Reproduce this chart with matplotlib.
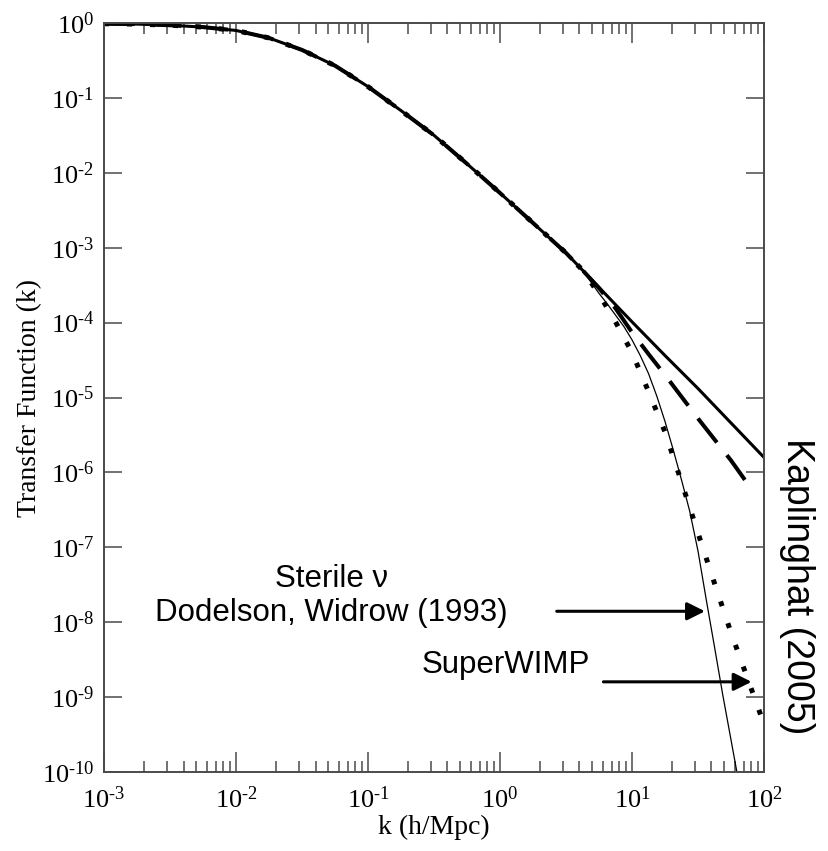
import numpy as np
import matplotlib.pyplot as plt
from matplotlib.ticker import FixedLocator, NullLocator, FuncFormatter

plt.rcParams['mathtext.fontset'] = 'custom'
plt.rcParams['mathtext.rm'] = 'Liberation Serif'
plt.rcParams['mathtext.it'] = 'Liberation Serif:italic'
plt.rcParams['font.family'] = ['Liberation Serif', 'DejaVu Serif']
sans = ['Liberation Sans', 'DejaVu Sans']

# log10(k) and log10(T)
# part shared by all four models
logk_common = [-3.0, -2.75, -2.5, -2.25, -2.0, -1.75, -1.5, -1.25, -1.0, -0.75,
               -0.5, -0.25, 0.0, 0.25, 0.5, 0.625]
logT_common = [-0.01, -0.015, -0.03, -0.055, -0.10, -0.20, -0.36, -0.57, -0.85, -1.17,
               -1.50, -1.88, -2.27, -2.67, -3.07, -3.30]

# CDM (thick solid)
logk_cdm = [0.75, 0.875, 1.0, 1.25, 1.5, 1.75, 2.0]
logT_cdm = [-3.53, -3.76, -3.99, -4.44, -4.88, -5.34, -5.80]

# dashed
logk_dash = [0.75, 0.875, 1.0, 1.125, 1.25, 1.375, 1.5, 1.625, 1.75, 1.92]
logT_dash = [-3.54, -3.81, -4.13, -4.42, -4.70, -4.99, -5.28, -5.56, -5.84, -6.26]

# sterile neutrino (thin solid)
logk_nu = [0.75, 0.8125, 0.875, 0.9375, 1.0, 1.0625, 1.125, 1.1875, 1.25, 1.3125,
           1.375, 1.4375, 1.5, 1.5625, 1.625, 1.6875, 1.75, 1.81]
logT_nu = [-3.61, -3.75, -3.90, -4.05, -4.23, -4.44, -4.68, -4.98, -5.32, -5.70,
           -6.10, -6.52, -7.05, -7.70, -8.33, -8.97, -9.57, -10.15]

# SuperWIMP (dotted)
logk_sw = [0.75, 0.875, 1.0, 1.125, 1.25, 1.375, 1.5, 1.625, 1.75, 1.875, 2.0]
logT_sw = [-3.62, -3.99, -4.40, -4.92, -5.46, -6.13, -6.81, -7.48, -8.14, -8.75, -9.36]

x_decades = [-3, -2, -1, 0, 1, 2]
y_decades = [-10, -9, -8, -7, -6, -5, -4, -3, -2, -1, 0]


def curve(lk, lt):
    k = 10.0 ** np.array(logk_common + lk)
    t = 10.0 ** np.array(logT_common + lt)
    return k, t


def pow10(v, pos):
    e = int(round(np.log10(v)))
    s = str(e).replace('-', '\u2010')
    return '$\\mathrm{10}^{\\mathrm{' + s + '}}$'


fig = plt.figure(figsize=(8.29, 8.51), dpi=100)
ax = fig.add_axes([0.1255, 0.0928, 0.7961, 0.8802])

k, t = curve(logk_nu, logT_nu)
ax.plot(k, t, color='k', lw=0.9)
k, t = curve(logk_sw, logT_sw)
ax.plot(k, t, color='k', lw=3.6, linestyle=(0, (1, 3.6)))
k, t = curve(logk_dash, logT_dash)
ax.plot(k, t, color='k', lw=2.9, linestyle=(0, (7.6, 4.0)))
k, t = curve(logk_cdm, logT_cdm)
ax.plot(k, t, color='k', lw=2.2)

ax.set_xscale('log')
ax.set_yscale('log')
ax.set_xlim(1e-3, 1e2)
ax.set_ylim(1e-10, 1e0)

xmaj = [10.0 ** d for d in x_decades]
xmin = [m * 10.0 ** d for d in x_decades[:-1] for m in range(2, 10)]
ax.xaxis.set_major_locator(FixedLocator(xmaj))
ax.xaxis.set_minor_locator(FixedLocator(xmin))
ax.xaxis.set_minor_formatter(FuncFormatter(lambda v, p: ''))
ax.yaxis.set_major_locator(FixedLocator([10.0 ** d for d in y_decades]))
ax.yaxis.set_minor_locator(NullLocator())
ax.xaxis.set_major_formatter(FuncFormatter(pow10))
ax.yaxis.set_major_formatter(FuncFormatter(pow10))

spine_col = '#4a4a4a'
for s in ax.spines.values():
    s.set_color(spine_col)
    s.set_linewidth(1.4)
ax.tick_params(which='both', direction='in', top=True, right=True, color=spine_col, width=1.1)
ax.tick_params(axis='x', which='major', length=14.5, pad=10, labelsize=19)
ax.tick_params(axis='x', which='minor', length=8)
ax.tick_params(axis='y', which='major', length=13, pad=7, labelsize=19)

ax.set_xlabel('k (h/Mpc)', fontsize=20, labelpad=2)
ax.set_ylabel('Transfer Function (k)', fontsize=20, labelpad=0)

# annotations
ax.text(0.0525, 10 ** -7.53, 'Sterile \u03bd', ha='center', va='baseline', fontsize=22.5, family=sans)
ax.text(0.0525, 10 ** -7.99, 'Dodelson, Widrow (1993)', ha='center', va='baseline',
        fontsize=22.5, family=sans)
ax.text(1.1, 10 ** -8.68, 'SuperWIMP', ha='center', va='baseline', fontsize=22.5, family=sans)
ax.text(178, 10 ** -7.52, 'Kaplinghat (2005)', ha='center', va='center', rotation=-90,
        fontsize=27, family=sans, clip_on=False)

arrow = dict(arrowstyle='-|>', lw=2.2, color='k', mutation_scale=27, shrinkA=0, shrinkB=0)
ax.annotate('', xy=(35.7, 1.4e-8), xytext=(2.69, 1.4e-8), arrowprops=arrow)
ax.annotate('', xy=(80.5, 1.6e-9), xytext=(6.07, 1.6e-9), arrowprops=arrow)

fig.savefig('out.png', dpi=100)
